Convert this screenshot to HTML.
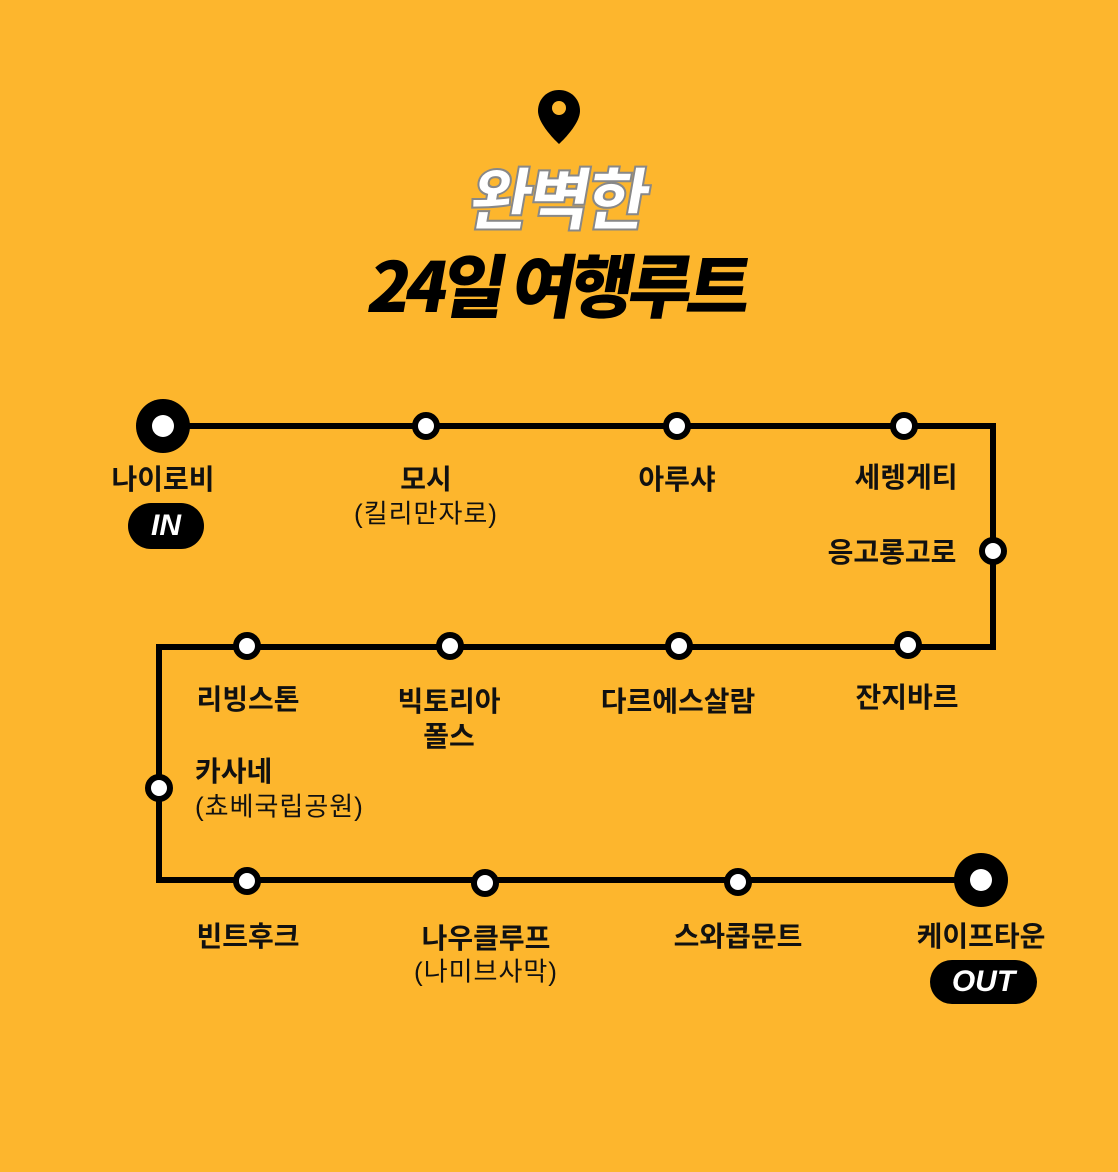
<!DOCTYPE html>
<html><head><meta charset="utf-8"><style>
body{margin:0;background:#FDB62D;}
#c{position:relative;width:1118px;height:1172px;background:#FDB62D;overflow:hidden;font-family:"Liberation Sans","Noto Sans CJK KR",sans-serif;}
.l{position:absolute;font-weight:bold;font-size:28px;color:#111;white-space:nowrap;transform:translate(-50%,-50%);}
.s{font-weight:normal;font-size:26px;letter-spacing:1px;}
.t{position:absolute;left:0;width:1118px;text-align:center;font-weight:900;font-family:"Noto Sans CJK KR",sans-serif;}
.pill{position:absolute;background:#000;color:#fff;border-radius:24px;font-style:italic;font-weight:bold;font-size:30px;text-align:center;}
</style></head><body><div id="c">
<svg width="1118" height="1172" style="position:absolute;left:0;top:0">
<path d="M559 90c-12 0-21 9-21 21 0 14 21 33 21 33s21-19 21-33c0-12-9-21-21-21z" fill="#000"/>
<circle cx="559" cy="108" r="7" fill="#FDB62D"/>
<polyline points="163,426 993,426 993,647 159,647 159,880 981,880" fill="none" stroke="#000" stroke-width="6"/>
<g fill="#fff" stroke="#000" stroke-width="6">
<circle cx="426" cy="426" r="11"/><circle cx="677" cy="426" r="11"/><circle cx="904" cy="426" r="11"/>
<circle cx="993" cy="551" r="11"/><circle cx="908" cy="645" r="11"/><circle cx="679" cy="646" r="11"/>
<circle cx="450" cy="646" r="11"/><circle cx="247" cy="646" r="11"/><circle cx="159" cy="788" r="11"/>
<circle cx="247" cy="881" r="11"/><circle cx="485" cy="883" r="11"/><circle cx="738" cy="882" r="11"/>
</g>
<circle cx="163" cy="426" r="27" fill="#000"/><circle cx="163" cy="426" r="11" fill="#fff"/>
<circle cx="981" cy="880" r="27" fill="#000"/><circle cx="981" cy="880" r="11" fill="#fff"/>
</svg>
<div class="t" style="top:153px;font-size:68px;line-height:84px;color:#fff;-webkit-text-stroke:2px #888;transform:skewX(-10deg);letter-spacing:-4px;">완벽한</div>
<div class="t" style="top:239px;font-size:69px;line-height:86px;color:#000;transform:skewX(-10deg);letter-spacing:-5px;">24일 여행루트</div>
<div class="l" style="left:163px;top:478px">나이로비</div>
<div class="pill" style="left:128px;top:503px;width:76px;height:46px;line-height:46px">IN</div>
<div class="l" style="left:426px;top:478px">모시</div>
<div class="l s" style="left:426px;top:512px">(킬리만자로)</div>
<div class="l" style="left:677px;top:478px">아루샤</div>
<div class="l" style="left:906px;top:476px">세렝게티</div>
<div class="l" style="left:892px;top:551px">응고롱고로</div>
<div class="l" style="left:248px;top:698px">리빙스톤</div>
<div class="l" style="left:449px;top:700px">빅토리아</div>
<div class="l" style="left:449px;top:735px">폴스</div>
<div class="l" style="left:678px;top:700px">다르에스살람</div>
<div class="l" style="left:907px;top:696px">잔지바르</div>
<div class="l" style="left:195px;top:770px;transform:translate(0,-50%)">카사네</div>
<div class="l s" style="left:195px;top:805px;transform:translate(0,-50%)">(쵸베국립공원)</div>
<div class="l" style="left:248px;top:935px">빈트후크</div>
<div class="l" style="left:486px;top:937px">나우클루프</div>
<div class="l s" style="left:486px;top:970px">(나미브사막)</div>
<div class="l" style="left:738px;top:935px">스와콥문트</div>
<div class="l" style="left:981px;top:935px">케이프타운</div>
<div class="pill" style="left:930px;top:960px;width:107px;height:44px;line-height:44px">OUT</div>
</div></body></html>
